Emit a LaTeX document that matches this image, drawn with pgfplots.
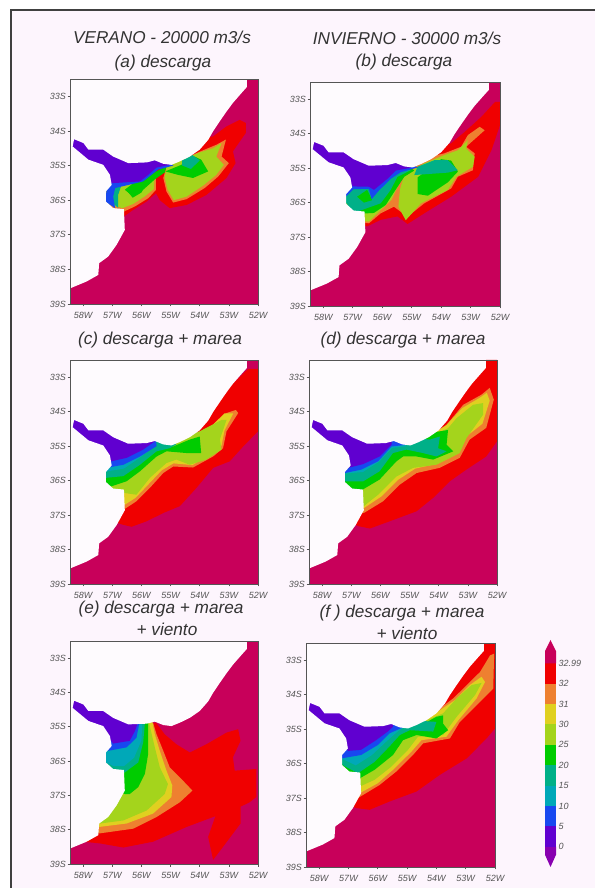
\documentclass[border=0pt]{standalone}
\usepackage{pgfplots}
\pgfplotsset{compat=1.18}
\usepackage{pgfplotstable}
\usepackage{fontspec}
\setmainfont{Liberation Sans}
\definecolor{cC}{HTML}{C8005A}
\definecolor{cR}{HTML}{F00000}
\definecolor{cO}{HTML}{EE8030}
\definecolor{cY}{HTML}{E0D020}
\definecolor{cL}{HTML}{A4D41C}
\definecolor{cG}{HTML}{00CC00}
\definecolor{cT}{HTML}{00B088}
\definecolor{cA}{HTML}{00A8B8}
\definecolor{cB}{HTML}{1848F0}
\definecolor{cP}{HTML}{6000D0}
\definecolor{cV}{HTML}{8800B0}
\definecolor{bgp}{HTML}{FDF5FD}
\definecolor{landc}{HTML}{FEFBFE}
\definecolor{tickc}{HTML}{555555}
\pgfplotstableread{
lon lat
-58.45 -32.5
-52.38 -32.5
-52.38 -32.73
-52.57 -32.91
-52.86 -33.19
-53.08 -33.44
-53.31 -33.72
-53.54 -34.01
-53.71 -34.26
-54.0 -34.54
-54.34 -34.74
-54.68 -34.88
-54.97 -34.98
-55.25 -34.95
-55.54 -34.85
-55.82 -34.91
-56.45 -34.93
-56.97 -34.74
-57.31 -34.54
-57.82 -34.54
-57.99 -34.35
-58.31 -34.24
-58.36 -34.45
-57.82 -34.83
-57.31 -34.98
-57.08 -35.27
-57.02 -35.56
-57.22 -35.75
-57.22 -36.04
-56.97 -36.23
-56.6 -36.26
-56.57 -36.86
-56.85 -37.29
-57.14 -37.63
-57.45 -37.82
-57.48 -38.16
-57.88 -38.35
-58.45 -38.55
}\landtbl
\pgfplotsset{
 panel/.style={scale only axis,width=188pt,height=224pt,anchor=south west,
  xmin=-58.45,xmax=-52,ymin=-39,ymax=-32.5,
  axis on top,tick align=outside,tick pos=left,
  major tick length=2.5pt,
  axis line style={draw=tickc,line width=0.9pt},
  tick style={draw=tickc,line width=0.6pt},
  xtick={-58,-57,-56,-55,-54,-53,-52},
  xticklabels={58W,57W,56W,55W,54W,53W,52W},
  ytick={-39,-38,-37,-36,-35,-34,-33},
  yticklabels={39S,38S,37S,36S,35S,34S,33S},
  tick label style={font=\fontsize{9}{10}\selectfont\itshape,text=tickc},
  xticklabel style={yshift=-2.5pt},
  yticklabel style={xshift=2pt},
 },
}
\newcommand{\ocean}{\addplot[fill=cC,draw=none] coordinates {(-58.45,-39)(-52,-39)(-52,-32.5)(-58.45,-32.5)} --cycle;}
\newcommand{\landfill}{\addplot[fill=landc,draw=none] table[x=lon,y=lat] {\landtbl} --cycle;}
\newcommand{\ttl}[3]{\node[font=\fontsize{#3}{#3}\selectfont\itshape,text=black!80] at #1 {#2};}
\begin{document}
\begin{tikzpicture}[x=1pt,y=1pt]
\path[use as bounding box] (0,0) rectangle (595,888);
\fill[white] (0,0) rectangle (595,888);
\fill[bgp] (11,0) rectangle (595,878);
\draw[black!75,line width=1.4pt] (11,0) -- (11,878) -- (595,878);
% titles (y = 888 - pixel row)
\ttl{(162,851)}{VERANO - 20000 m3/s}{17.2}
\ttl{(163,825)}{(a) descarga}{17.2}
\ttl{(407,850)}{INVIERNO - 30000 m3/s}{17.2}
\ttl{(404,826)}{(b) descarga}{17.2}
\ttl{(160,548)}{(c) descarga + marea}{17.2}
\ttl{(403,548)}{(d) descarga + marea}{17.2}
\ttl{(161,279)}{(e) descarga + marea}{17.2}
\ttl{(167,259)}{+ viento}{17.2}
\ttl{(402,275)}{(f ) descarga + marea}{17.2}
\ttl{(407,255)}{+ viento}{17.2}

% ---- (a)
\begin{axis}[panel,at={(70pt,584pt)},height=225pt]
\ocean
\addplot[fill=cR,draw=none] coordinates {(-56.6,-36.47)(-56.28,-36.28)(-55.82,-36.04)(-55.5,-35.8)(-55.37,-36.0)(-55.03,-36.23)(-54.45,-36.14)(-53.77,-35.85)(-53.08,-35.36)(-52.77,-34.93)(-52.86,-34.59)(-52.42,-34.06)(-52.42,-33.77)(-52.63,-33.68)(-53.08,-33.87)(-53.54,-34.16)(-54.5,-34.3)(-56,-34.8)(-57.5,-36.4)} --cycle;
\addplot[fill=cO,draw=none] coordinates {(-55.25,-35.36)(-55.14,-35.75)(-54.91,-36.07)(-54.45,-35.97)(-53.83,-35.65)(-53.37,-35.32)(-53.0,-34.93)(-53.25,-34.74)(-53.1,-34.25)(-53.43,-34.4)(-54.0,-34.6)(-55.14,-35.03)} --cycle;
\addplot[fill=cO,draw=none] coordinates {(-56.6,-36.33)(-56.22,-36.18)(-55.76,-35.94)(-55.5,-35.7)(-55.5,-35.2)(-57.5,-35.6)(-57.5,-36.3)} --cycle;
\addplot[fill=cL,draw=none] coordinates {(-55.2,-35.36)(-55.1,-35.7)(-54.89,-36.0)(-54.45,-35.9)(-53.88,-35.58)(-53.43,-35.27)(-53.17,-34.98)(-53.43,-34.74)(-53.25,-34.35)(-53.54,-34.5)(-54,-34.62)(-55.14,-35.03)} --cycle;
\addplot[fill=cL,draw=none] coordinates {(-56.65,-36.23)(-56.28,-36.11)(-55.88,-35.89)(-55.57,-35.68)(-55.54,-35.22)(-57.2,-35.4)(-57.2,-36.1)} --cycle;
\addplot[fill=cG,draw=none] coordinates {(-55.18,-35.17)(-54.74,-35.27)(-54.23,-35.36)(-53.71,-35.17)(-53.95,-34.83)(-54.18,-34.74)(-54.63,-34.98)} --cycle;
\addplot[fill=cG,draw=none] coordinates {(-56.57,-35.7)(-56.28,-35.9)(-55.94,-35.7)(-55.54,-35.4)(-55.2,-35.2)(-55.14,-35.03)(-55.83,-35.3)(-56.28,-35.51)} --cycle;
\addplot[fill=cG,draw=none] coordinates {(-56.5,-35.72)(-56.3,-35.93)(-56.0,-35.78)(-55.85,-35.55)(-56.3,-35.55)} --cycle;
\addplot[fill=cT,draw=none] coordinates {(-54.6,-35.0)(-54.3,-35.1)(-54.0,-34.85)(-54.25,-34.7)(-54.6,-34.85)} --cycle;
\addplot[fill=cT,draw=none] coordinates {(-57.05,-35.75)(-57.1,-36.0)(-56.8,-36.22)(-56.8,-35.85)(-56.7,-35.6)(-57,-35.5)} --cycle;
\addplot[fill=cB,draw=none] coordinates {(-57.2,-35.75)(-57.25,-36.04)(-56.9,-36.23)(-56.97,-35.9)(-56.9,-35.65)(-55.94,-35.46)(-55.43,-35.12)(-54.9,-35.0)(-55.5,-34.7)(-57.5,-35.2)} --cycle;
\addplot[fill=cP,draw=none] coordinates {(-57.02,-35.51)(-56.05,-35.46)(-55.77,-35.27)(-55.48,-35.06)(-55.03,-34.98)(-55.5,-34.7)(-58.5,-34)(-58.5,-34.6)(-57.3,-35.1)} --cycle;
\landfill
\end{axis}

% ---- (b)
\begin{axis}[panel,at={(310pt,582pt)},width=190pt]
\ocean
\addplot[fill=cR,draw=none] coordinates {(-56.51,-36.69)(-56.05,-36.5)(-55.48,-36.4)(-55.14,-36.62)(-54.57,-36.31)(-53.66,-35.83)(-52.74,-35.25)(-52.29,-34.48)(-52,-33.75)(-52,-33.08)(-52.17,-33.08)(-52.63,-33.51)(-53.2,-33.95)(-53.66,-34.28)(-54.5,-34.5)(-56,-34.8)(-57.5,-36.5)} --cycle;
\addplot[fill=cO,draw=none] coordinates {(-56.45,-36.6)(-56.05,-36.31)(-55.6,-36.12)(-55.14,-36.41)(-54.57,-36.02)(-53.66,-35.59)(-53.43,-35.25)(-52.92,-35.06)(-52.86,-34.57)(-53.15,-34.38)(-52.52,-33.9)(-52.69,-33.8)(-53.09,-34.04)(-53.32,-34.38)(-53.89,-34.57)(-55,-34.8)(-57.5,-35.6)(-57.5,-36.5)} --cycle;
\addplot[fill=cL,draw=none] coordinates {(-55.45,-36.12)(-55.2,-36.51)(-54.68,-36.02)(-53.77,-35.63)(-53.48,-35.25)(-52.92,-34.96)(-52.86,-34.67)(-53.15,-34.43)(-53.09,-34.19)(-53.43,-34.48)(-53.89,-34.62)(-54.57,-34.86)(-55.25,-35.2)(-55.4,-35.63)} --cycle;
\addplot[fill=cL,draw=none] coordinates {(-56.45,-36.55)(-56.05,-36.22)(-55.68,-35.92)(-55.5,-35.58)(-55.25,-35.2)(-57.4,-35.5)(-57.4,-36.5)} --cycle;
\addplot[fill=cG,draw=none] coordinates {(-54.8,-35.27)(-54.8,-35.75)(-54.45,-35.8)(-53.77,-35.41)(-53.43,-35.1)(-53.66,-34.78)(-54,-34.74)(-54.34,-34.98)} --cycle;
\addplot[fill=cT,draw=none] coordinates {(-54.91,-35.2)(-53.77,-35.13)(-53.43,-35.06)(-53.77,-34.77)(-54.23,-34.77)(-54.8,-34.96)} --cycle;
\addplot[fill=cG,draw=none] coordinates {(-56.91,-36.33)(-56.28,-36.3)(-55.88,-36.07)(-55.57,-35.66)(-55.25,-35.25)(-54.91,-35.07)(-55.5,-34.7)(-57.5,-35.2)} --cycle;
\addplot[fill=cT,draw=none] coordinates {(-57.3,-35.92)(-56.97,-36.3)(-56.51,-36.16)(-56.05,-36.02)(-55.71,-35.63)(-55.48,-35.25)(-55.03,-35.06)(-55.5,-34.7)(-57.5,-35.2)} --cycle;
\addplot[fill=cG,draw=none] coordinates {(-56.85,-35.83)(-56.62,-36.0)(-56.34,-35.93)(-56.51,-35.63)} --cycle;
\addplot[fill=cB,draw=none] coordinates {(-57.3,-35.88)(-56.97,-35.61)(-56.45,-35.6)(-56.36,-35.9)(-56.11,-35.65)(-55.71,-35.31)(-55.37,-35.12)(-54.8,-34.98)(-55.5,-34.7)(-57.5,-35.2)} --cycle;
\addplot[fill=cP,draw=none] coordinates {(-57.0,-35.53)(-56.45,-35.54)(-56.28,-35.63)(-55.82,-35.31)(-55.54,-35.07)(-55.03,-34.99)(-55.5,-34.7)(-58.5,-34)(-58.5,-34.6)(-57.3,-35.1)} --cycle;
\landfill
\end{axis}

% ---- (c)
\begin{axis}[panel,at={(70pt,304pt)}]
\ocean
\addplot[fill=cR,draw=none] coordinates {(-56.68,-37.27)(-56.34,-37.34)(-55.82,-37.18)(-55.25,-36.94)(-54.68,-36.74)(-54.11,-36.21)(-53.54,-35.63)(-52.97,-35.44)(-52.51,-35.01)(-52,-34.57)(-52,-32.76)(-52.34,-32.76)(-53.6,-33.8)(-54.5,-34.5)(-57.5,-35.5)(-57.5,-37)} --cycle;
\addplot[fill=cO,draw=none] coordinates {(-56.57,-36.82)(-56.17,-36.6)(-55.71,-36.21)(-55.25,-35.78)(-54.91,-35.59)(-54.23,-35.62)(-53.54,-35.3)(-53.2,-35.06)(-53.08,-34.57)(-52.68,-34.04)(-52.76,-33.95)(-53.08,-34.04)(-53.54,-34.38)(-54.5,-34.8)(-57.5,-35.6)(-57.5,-36.6)} --cycle;
\addplot[fill=cY,draw=none] coordinates {(-56.57,-36.7)(-56.2,-36.5)(-55.75,-36.1)(-55.3,-35.7)(-54.9,-35.5)(-54.25,-35.55)(-53.6,-35.22)(-53.25,-34.98)(-53.15,-34.55)(-52.85,-34.05)(-53.15,-34.05)(-53.6,-34.42)(-54.5,-34.8)(-57.5,-35.6)(-57.5,-36.5)} --cycle;
\addplot[fill=cL,draw=none] coordinates {(-56.57,-36.36)(-56.17,-36.41)(-55.71,-35.92)(-55.14,-35.49)(-54.8,-35.39)(-54.34,-35.54)(-53.77,-35.39)(-53.25,-35.1)(-53.31,-34.81)(-53.08,-34.24)(-53.25,-34.24)(-54,-34.57)(-55,-34.8)(-57.5,-35.6)(-57.5,-36.3)} --cycle;
\addplot[fill=cG,draw=none] coordinates {(-57.08,-36.18)(-56.51,-36.02)(-56.05,-35.73)(-55.48,-35.3)(-55.14,-35.15)(-54.45,-35.2)(-53.95,-35.2)(-54,-34.72)(-54.34,-34.81)(-54.91,-35.01)(-55.5,-34.8)(-57.5,-35.2)(-57.6,-36)} --cycle;
\addplot[fill=cT,draw=none] coordinates {(-57.22,-35.92)(-56.62,-35.87)(-56.05,-35.54)(-55.48,-35.15)(-55.03,-35.06)(-54.8,-34.95)(-55.5,-34.8)(-57.5,-35.2)} --cycle;
\addplot[fill=cA,draw=none] coordinates {(-57.3,-35.75)(-56.6,-35.65)(-56.05,-35.33)(-55.55,-35.0)(-55.8,-34.8)(-57.5,-35.2)} --cycle;
\addplot[fill=cB,draw=none] coordinates {(-57.14,-35.62)(-56.62,-35.54)(-56.05,-35.3)(-55.48,-35.0)(-55.5,-34.8)(-57.5,-35.2)} --cycle;
\addplot[fill=cP,draw=none] coordinates {(-57.14,-35.46)(-56.51,-35.34)(-55.94,-35.1)(-55.54,-34.86)(-55.5,-34.7)(-58.5,-34)(-58.5,-34.6)(-57.3,-35.1)} --cycle;
\landfill
\end{axis}

% ---- (d)
\begin{axis}[panel,at={(309pt,304pt)}]
\ocean
\addplot[fill=cR,draw=none] coordinates {(-56.76,-37.32)(-56.36,-37.39)(-55.68,-37.18)(-54.76,-36.89)(-54.19,-36.5)(-53.62,-36.02)(-53.05,-35.68)(-52.37,-35.3)(-52,-34.86)(-52,-32.5)(-52.37,-32.5)(-53.5,-33.5)(-54.5,-34.5)(-57.5,-35.5)(-57.5,-37)} --cycle;
\addplot[fill=cO,draw=none] coordinates {(-56.57,-36.94)(-55.91,-36.6)(-55.34,-36.12)(-54.76,-35.78)(-53.97,-35.63)(-53.28,-35.34)(-52.94,-34.81)(-52.37,-34.47)(-52.11,-33.65)(-52.25,-33.31)(-52.54,-33.51)(-53.16,-33.8)(-53.73,-34.38)(-54.5,-34.8)(-57.5,-35.6)(-57.5,-36.7)} --cycle;
\addplot[fill=cY,draw=none] coordinates {(-56.57,-36.8)(-55.95,-36.45)(-55.4,-35.98)(-54.8,-35.65)(-54.0,-35.5)(-53.35,-35.22)(-53.05,-34.72)(-52.5,-34.35)(-52.25,-33.68)(-52.35,-33.45)(-52.6,-33.6)(-53.2,-33.9)(-53.75,-34.4)(-54.5,-34.8)(-57.5,-35.6)(-57.5,-36.6)} --cycle;
\addplot[fill=cL,draw=none] coordinates {(-56.57,-36.74)(-56.08,-36.41)(-55.45,-35.88)(-54.88,-35.63)(-54.08,-35.54)(-53.28,-35.2)(-53.05,-34.77)(-52.48,-34.09)(-52.48,-33.75)(-52.82,-33.8)(-53.39,-34.19)(-53.68,-34.48)(-54.5,-34.8)(-57.5,-35.6)(-57.5,-36.5)} --cycle;
\addplot[fill=cG,draw=none] coordinates {(-56.71,-36.31)(-56.03,-35.97)(-55.45,-35.44)(-55.22,-35.3)(-54.76,-35.3)(-54.19,-35.39)(-53.5,-35.15)(-53.73,-34.96)(-53.68,-34.53)(-53.96,-34.57)(-55,-34.7)(-57.5,-35.2)(-57.5,-36.1)} --cycle;
\addplot[fill=cT,draw=none] coordinates {(-57.27,-36.02)(-56.59,-36.02)(-56.03,-35.73)(-55.57,-35.2)(-55.11,-35.1)(-54.54,-35.2)(-54.08,-35.3)(-53.73,-35.15)(-54.02,-35.06)(-53.96,-34.72)(-54.3,-34.81)(-55.5,-34.7)(-57.5,-35.2)} --cycle;
\addplot[fill=cA,draw=none] coordinates {(-57.3,-35.8)(-56.6,-35.75)(-56.05,-35.45)(-55.6,-35.05)(-55.1,-35.0)(-55.5,-34.7)(-57.5,-35.2)} --cycle;
\addplot[fill=cB,draw=none] coordinates {(-57.22,-35.78)(-56.65,-35.68)(-56.08,-35.44)(-55.62,-35.01)(-55.11,-34.96)(-55.5,-34.7)(-57.5,-35.2)} --cycle;
\addplot[fill=cP,draw=none] coordinates {(-57.11,-35.63)(-56.59,-35.52)(-56.03,-35.3)(-55.62,-34.96)(-55.6,-34.7)(-58.5,-34)(-58.5,-34.6)(-57.3,-35.1)} --cycle;
\landfill
\end{axis}

% ---- (e)
\begin{axis}[panel,at={(70pt,24pt)},height=223pt]
\ocean
\addplot[fill=cR,draw=none] coordinates {(-55.5,-34.88)(-55.2,-35.22)(-54.8,-35.51)(-54.34,-35.75)(-53.77,-35.51)(-53.08,-35.17)(-52.68,-35.07)(-52.6,-35.41)(-52.86,-35.89)(-52.8,-36.28)(-52.06,-36.23)(-52.06,-37.05)(-52.29,-37.2)(-52.86,-37.44)(-53.54,-37.63)(-54.45,-37.92)(-55.6,-38.35)(-56.62,-38.52)(-57.42,-38.4)(-57.99,-38.35)(-58.5,-38.3)(-57,-37)(-56,-35)} --cycle;
\addplot[fill=cR,draw=none] coordinates {(-53.71,-38.21)(-53.54,-38.88)(-53.2,-38.5)(-52.6,-37.82)(-52.6,-37.33)(-53.43,-37.53)} --cycle;
\addplot[fill=cO,draw=none] coordinates {(-57.45,-38.11)(-56.28,-37.97)(-55.48,-37.63)(-54.68,-37.2)(-54.25,-36.86)(-54.63,-36.52)(-55.03,-36.18)(-55.25,-35.7)(-55.48,-35.22)(-55.6,-34.88)(-56,-34.7)(-57,-36.5)(-58,-38)} --cycle;
\addplot[fill=cY,draw=none] coordinates {(-57.45,-37.92)(-56.51,-37.82)(-55.6,-37.53)(-54.97,-37.05)(-54.94,-36.71)(-55.14,-36.28)(-55.37,-35.7)(-55.54,-35.22)(-55.62,-34.88)(-56,-34.7)(-57,-36.5)(-58,-37.8)} --cycle;
\addplot[fill=cL,draw=none] coordinates {(-57.42,-37.82)(-56.62,-37.73)(-55.82,-37.44)(-55.2,-36.96)(-55.09,-36.67)(-55.37,-36.18)(-55.54,-35.6)(-55.74,-34.88)(-56,-34.7)(-57,-36.5)(-58,-37.5)} --cycle;
\addplot[fill=cG,draw=none] coordinates {(-56.57,-36.96)(-56.4,-36.96)(-56.11,-36.76)(-55.88,-36.37)(-55.77,-35.8)(-55.77,-34.88)(-56,-34.7)(-57,-35.6)(-57,-36.8)} --cycle;
\addplot[fill=cT,draw=none] coordinates {(-57.08,-36.23)(-56.57,-36.33)(-56.11,-36.04)(-55.94,-35.46)(-55.88,-34.88)(-56,-34.7)(-57.5,-35.5)(-57.4,-36)} --cycle;
\addplot[fill=cA,draw=none] coordinates {(-57.3,-36.0)(-56.95,-36.15)(-56.6,-36.15)(-56.25,-35.9)(-56.0,-35.4)(-55.97,-34.88)(-56,-34.7)(-57.5,-35.5)} --cycle;
\addplot[fill=cB,draw=none] coordinates {(-57.13,-35.7)(-56.51,-35.6)(-56.17,-35.32)(-56.08,-34.93)(-56,-34.7)(-57.5,-35.2)} --cycle;
\addplot[fill=cP,draw=none] coordinates {(-56.97,-35.49)(-56.4,-35.41)(-56.22,-35.12)(-56.14,-34.93)(-56.1,-34.7)(-58.5,-34)(-58.5,-34.6)(-57.3,-35.1)} --cycle;
\landfill
\end{axis}

% ---- (f)
\begin{axis}[panel,at={(306pt,21pt)},width=189pt]
\ocean
\addplot[fill=cR,draw=none] coordinates {(-56.74,-37.29)(-56.28,-37.34)(-55.6,-37.1)(-54.68,-36.81)(-53.89,-36.33)(-52.97,-35.85)(-52.29,-35.27)(-52,-34.98)(-52,-32.5)(-52.4,-32.5)(-53.5,-33.8)(-54.5,-34.5)(-57.5,-35.5)(-57.5,-37)} --cycle;
\addplot[fill=cO,draw=none] coordinates {(-56.68,-37.0)(-55.94,-36.62)(-55.37,-36.23)(-54.8,-35.75)(-54.45,-35.41)(-53.54,-35.27)(-53.2,-34.79)(-52.51,-34.21)(-52.06,-33.82)(-52.03,-32.81)(-52.17,-32.86)(-52.51,-33.34)(-53.08,-33.82)(-53.43,-34.11)(-54.5,-34.8)(-57.5,-35.6)(-57.5,-36.7)} --cycle;
\addplot[fill=cY,draw=none] coordinates {(-56.6,-36.85)(-56.0,-36.57)(-55.48,-36.18)(-54.85,-35.65)(-54.51,-35.32)(-53.66,-35.22)(-53.25,-34.74)(-52.63,-34.11)(-52.34,-33.63)(-52.46,-33.48)(-52.86,-33.72)(-53.37,-34.16)(-54.5,-34.8)(-57.5,-35.6)(-57.5,-36.6)} --cycle;
\addplot[fill=cL,draw=none] coordinates {(-56.6,-36.66)(-56.11,-36.47)(-55.54,-36.09)(-54.97,-35.6)(-54.63,-35.22)(-53.77,-35.17)(-53.31,-34.64)(-52.68,-34.01)(-52.46,-33.66)(-52.8,-33.72)(-53.31,-34.11)(-53.77,-34.54)(-54.5,-34.8)(-57.5,-35.6)(-57.5,-36.5)} --cycle;
\addplot[fill=cG,draw=none] coordinates {(-56.6,-36.42)(-56.11,-36.18)(-55.48,-35.75)(-55.14,-35.32)(-54.68,-35.17)(-54,-35.27)(-53.6,-35.03)(-53.77,-34.84)(-53.77,-34.6)(-54,-34.64)(-54.4,-34.83)(-55.5,-34.7)(-57.5,-35.2)(-57.5,-36.2)} --cycle;
\addplot[fill=cT,draw=none] coordinates {(-57.2,-36.04)(-56.68,-36.28)(-56.11,-35.95)(-55.6,-35.5)(-55.25,-35.17)(-54.91,-35.03)(-54.11,-35.07)(-54,-34.79)(-55.5,-34.7)(-57.5,-35.2)} --cycle;
\addplot[fill=cA,draw=none] coordinates {(-57.25,-35.85)(-56.75,-36.05)(-56.2,-35.75)(-55.7,-35.35)(-55.3,-35.05)(-55.1,-34.95)(-55.5,-34.7)(-57.5,-35.2)} --cycle;
\addplot[fill=cB,draw=none] coordinates {(-57.25,-35.85)(-56.57,-35.75)(-56,-35.46)(-55.6,-35.12)(-55.09,-34.93)(-55.5,-34.7)(-57.5,-35.2)} --cycle;
\addplot[fill=cP,draw=none] coordinates {(-57.02,-35.63)(-56.57,-35.6)(-56.06,-35.32)(-55.66,-35.07)(-55.48,-34.93)(-55.5,-34.7)(-58.5,-34)(-58.5,-34.6)(-57.3,-35.1)} --cycle;
\landfill
\end{axis}

% ---- colour bar
\begin{axis}[scale only axis,width=11pt,height=227pt,anchor=south west,at={(545pt,21pt)},
 xmin=0,xmax=1,ymin=-1,ymax=10.15,clip=false,
 axis line style={draw=none},xtick=\empty,
 ytick={0,1,2,3,4,5,6,7,8,9},
 yticklabels={0,5,10,15,20,25,30,31,32,32.99},
 tick pos=right,major tick length=0pt,
 tick label style={font=\fontsize{9}{10}\selectfont\itshape,text=tickc},
 yticklabel style={xshift=-1pt},
]
\addplot[fill=cV,draw=none] coordinates {(0,0)(0,-0.4)(0.5,-1)(1,-0.4)(1,0)} --cycle;
\addplot[fill=cP,draw=none] coordinates {(0,0)(1,0)(1,1)(0,1)} --cycle;
\addplot[fill=cB,draw=none] coordinates {(0,1)(1,1)(1,2)(0,2)} --cycle;
\addplot[fill=cA,draw=none] coordinates {(0,2)(1,2)(1,3)(0,3)} --cycle;
\addplot[fill=cT,draw=none] coordinates {(0,3)(1,3)(1,4)(0,4)} --cycle;
\addplot[fill=cG,draw=none] coordinates {(0,4)(1,4)(1,5)(0,5)} --cycle;
\addplot[fill=cL,draw=none] coordinates {(0,5)(1,5)(1,6)(0,6)} --cycle;
\addplot[fill=cY,draw=none] coordinates {(0,6)(1,6)(1,7)(0,7)} --cycle;
\addplot[fill=cO,draw=none] coordinates {(0,7)(1,7)(1,8)(0,8)} --cycle;
\addplot[fill=cR,draw=none] coordinates {(0,8)(1,8)(1,9)(0,9)} --cycle;
\addplot[fill=cC,draw=none] coordinates {(0,9)(1,9)(1,9.6)(0.5,10.15)(0,9.6)} --cycle;
\end{axis}
\end{tikzpicture}
\end{document}
